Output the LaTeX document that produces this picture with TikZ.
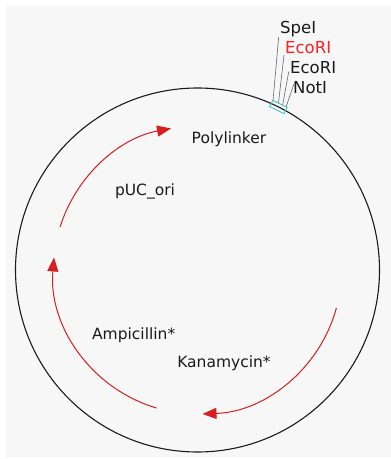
\documentclass[tikz,border=0pt]{standalone}
\usepackage{fontspec}
\setmainfont{DejaVu Sans}
\usetikzlibrary{arrows.meta,calc}
\definecolor{panel}{HTML}{F7F7F7}
\definecolor{genered}{HTML}{D81E1E}
\definecolor{sitered}{HTML}{FF2020}
\definecolor{sitecyan}{HTML}{33C4C8}
\definecolor{ink}{HTML}{1A1A1A}
\tikzset{
  lbl/.style={inner sep=0pt, anchor=base, font=\fontsize{15.5}{16}\selectfont, text=ink},
  sitelbl/.style={inner sep=0pt, anchor=base west, font=\fontsize{16.5}{17}\selectfont, text=ink},
  gene/.style={draw=genered, line width=1pt, -{Triangle[length=14pt,width=11pt]}},
  leader/.style={draw=gray!80!black, line width=0.6pt},
}
\begin{document}
\begin{tikzpicture}[x=1pt,y=1pt]
\useasboundingbox (0,0) rectangle (391,459);
\fill[white] (0,0) rectangle (391,459);
\fill[panel] (6,2) rectangle (391,453);
\coordinate (C) at (197.5,189);
\draw[ink, line width=1.1pt] (C) circle[radius=182];
% genes
\draw[gene] ($(C)+(162.6:144)$) arc[start angle=162.6, end angle=100.6, radius=144];
\draw[gene] ($(C)+(253.5:144)$) arc[start angle=253.5, end angle=175, radius=144];
\draw[gene] ($(C)+(-15.3:144)$) arc[start angle=-15.3, end angle=-88, radius=144];
% labels
\node[lbl] (poly) at (229,315) {Polylinker};
\node[lbl] (puc) at (145,263) {pUC\_ori};
\node[lbl] (amp) at (133.7,119.5) {Ampicillin*};
\node[lbl] (kan) at (224,91.5) {Kanamycin*};
% polylinker site
\node[draw=sitecyan, line width=0.8pt, minimum width=16pt, minimum height=7pt, inner sep=0pt, rotate=-26.4] (site) at ($(C)+(63.6:182)$) {};
\node[sitelbl] (spe) at (280,425.5) {SpeI};
\node[sitelbl, text=sitered] (eco1) at (285,405.7) {EcoRI};
\node[sitelbl] (eco2) at (290,385) {EcoRI};
\node[sitelbl] (not) at (293,365.7) {NotI};
\coordinate (s1) at (273,358);
\coordinate (s2) at (278.5,356);
\coordinate (s3) at (282.7,354);
\coordinate (s4) at (286,352);
\draw[leader] ($(spe.base west)+(-1.3,-3.3)$) -- (s1);
\draw[leader] ($(eco1.base west)+(-1,-1.7)$) -- (s2);
\draw[leader] ($(eco2.base west)+(-1.3,2.3)$) -- (s3);
\draw[leader] ($(not.base west)+(1.3,10.3)$) -- (s4);
\end{tikzpicture}
\end{document}
